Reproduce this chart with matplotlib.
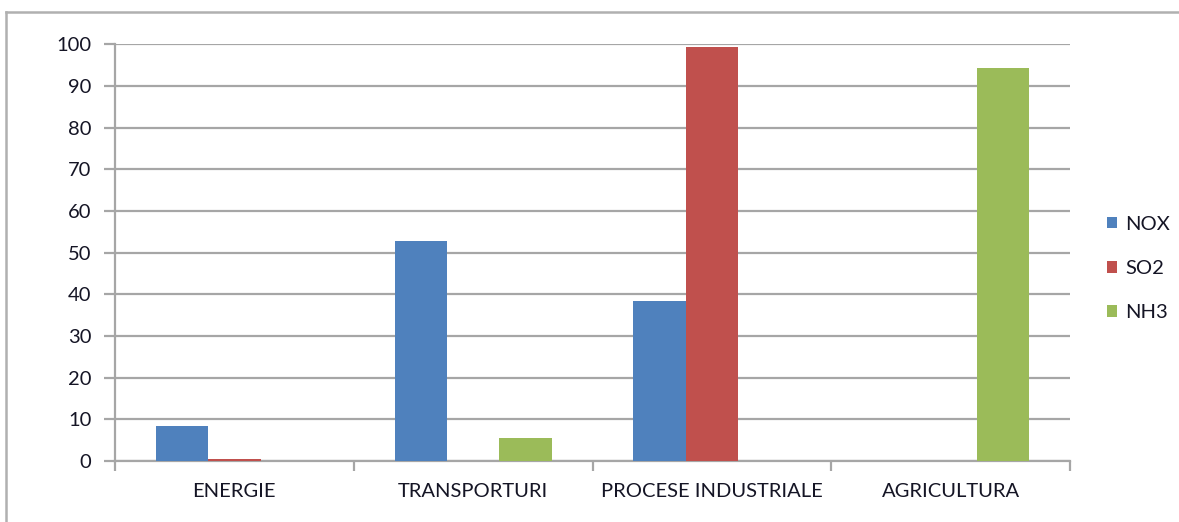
import matplotlib.pyplot as plt
from matplotlib.lines import Line2D
import numpy as np

categorii = ['ENERGIE', 'TRANSPORTURI', 'PROCESE INDUSTRIALE', 'AGRICULTURA']
serii = ['NOX', 'SO2', 'NH3']
nox = [8.5, 52.7, 38.4, 0]
so2 = [0.4, 0, 99.3, 0]
nh3 = [0, 5.4, 0, 94.4]
culori = ['#4f81bd', '#c0504d', '#9bbb59']

plt.rcParams['font.family'] = ['Lato', 'DejaVu Sans']
text_col = '#151525'
grid_col = '#a6a6a6'
fs = 14.5

fig = plt.figure(figsize=(11.79, 5.22), dpi=100)
ax = fig.add_axes([115 / 1179, 1 - 461 / 522, 955 / 1179, (461 - 44.3) / 522])

x = np.arange(len(categorii))
w = 0.219
for i, (vals, c) in enumerate(zip([nox, so2, nh3], culori)):
    ax.bar(x + (i - 1) * w, vals, w, color=c, label=serii[i], zorder=3)

ax.set_xlim(-0.5, 3.5)
ax.set_ylim(0, 100)
ax.set_yticks(range(0, 101, 10))
ax.yaxis.grid(True, color=grid_col, linewidth=1.6, zorder=0)
for s in ['top', 'right']:
    ax.spines[s].set_visible(False)
for s in ['left', 'bottom']:
    ax.spines[s].set_color(grid_col)
    ax.spines[s].set_linewidth(1.6)

ax.set_xticks(x)
ax.set_xticklabels(categorii)
ax.tick_params(axis='x', length=0, pad=16, labelsize=fs, labelcolor=text_col)
ax.tick_params(axis='y', length=8, width=1.6, color=grid_col, pad=9, labelsize=fs, labelcolor=text_col)
# tick-uri intre categorii
ax.set_xticks(np.arange(-0.5, 4, 1), minor=True)
ax.tick_params(axis='x', which='minor', length=7, width=1.6, color=grid_col)

ax.legend(loc='center left', bbox_to_anchor=(1.02, 0.462), frameon=False, fontsize=fs,
          handlelength=0.5, handleheight=0.5, handletextpad=0.4, labelspacing=1.35,
          labelcolor=text_col)

# chenarul exterior
fig.add_artist(Line2D([6 / 1179, 1], [1 - 12 / 522, 1 - 12 / 522], color='#b0b0b0', lw=1.8))
fig.add_artist(Line2D([6 / 1179, 6 / 1179], [0, 1 - 12 / 522], color='#b0b0b0', lw=1.8))

fig.savefig('out.png', dpi=100)
